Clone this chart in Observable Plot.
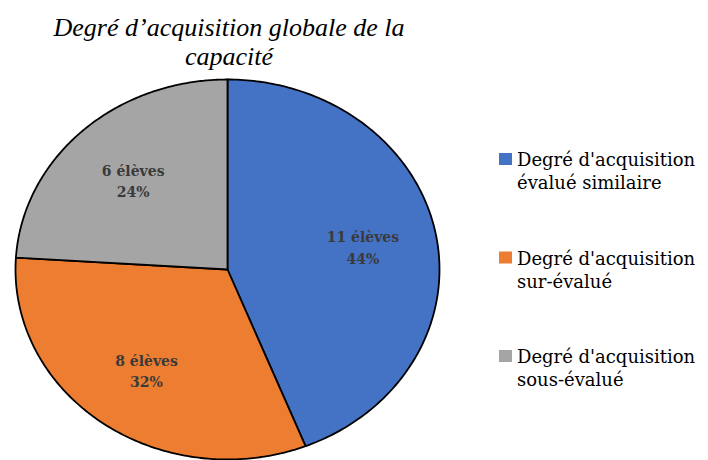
<!DOCTYPE html>
<html>
<head>
<meta charset="utf-8">
<script src="https://cdn.jsdelivr.net/npm/d3@7"></script>
<script src="https://cdn.jsdelivr.net/npm/@observablehq/plot@0.6"></script>
<style>
  html, body { margin: 0; padding: 0; background: #fff; }
</style>
</head>
<body>
<div id="chart"></div>
<script>
const titleLines = ["Degré d’acquisition globale de la", "capacité"];
const categories = ["Degré d'acquisition évalué similaire", "Degré d'acquisition sur-évalué", "Degré d'acquisition sous-évalué"];
const legendLine1 = ["Degré d'acquisition", "Degré d'acquisition", "Degré d'acquisition"];
const legendLine2 = ["évalué similaire", "sur-évalué", "sous-évalué"];
const counts = [11, 8, 6];
const percents = [44, 32, 24];
const colors = ["#4472C4", "#ED7D31", "#A5A5A5"];

const pie = d3.pie().sort(null).value(d => d.count)(
  categories.map((c, i) => ({category: c, count: counts[i], pct: percents[i]}))
);

// sector outlines in unit-circle coordinates (angle clockwise from top)
const sectors = [];
pie.forEach(p => {
  const n = 180;
  sectors.push({category: p.data.category, x: 0, y: 0});
  for (let k = 0; k <= n; k++) {
    const a = p.startAngle + (p.endAngle - p.startAngle) * k / n;
    sectors.push({category: p.data.category, x: Math.sin(a), y: Math.cos(a)});
  }
  sectors.push({category: p.data.category, x: 0, y: 0});
});

const labelR = 0.65;
const labels = pie.map(p => {
  const a = (p.startAngle + p.endAngle) / 2;
  return {x: labelR * Math.sin(a), y: labelR * Math.cos(a),
          text: `${p.data.count} élèves\n${p.data.pct}%`};
});

const chart = Plot.plot({
  width: 708,
  height: 460,
  margin: 0,
  style: {background: "white", overflow: "visible"},
  x: {domain: [-1, 1], range: [15, 439], axis: null},
  y: {domain: [-1, 1], range: [459, 79], axis: null},
  color: {domain: categories, range: colors},
  marks: [
    Plot.line(sectors, {x: "x", y: "y", z: "category", fill: "category", stroke: "#000", strokeWidth: 1.8, strokeLinejoin: "round"}),
    Plot.text(labels, {x: "x", y: "y", text: "text", fontFamily: "DejaVu Serif", fontSize: 14, fontWeight: "bold", fill: "#3a3a3a", lineHeight: 1.55})
  ]
});
document.getElementById("chart").appendChild(chart);

const svg = d3.select(chart);
// title
const t = svg.append("text")
  .attr("text-anchor", "middle")
  .style("font-family", "'Liberation Serif', 'Times New Roman', Times, serif")
  .style("font-style", "italic")
  .style("font-size", "26px")
  .attr("fill", "#000");
titleLines.forEach((line, i) => {
  t.append("tspan").attr("x", 229).attr("y", 36 + i * 29).text(line);
});

// legend
const lg = svg.append("g")
  .attr("text-anchor", "start")
  .style("font-family", "'DejaVu Serif', serif")
  .style("font-size", "18px")
  .attr("fill", "#000");
categories.forEach((c, i) => {
  const top = 153 + i * 98.5;
  lg.append("rect").attr("x", 499).attr("y", top).attr("width", 13).attr("height", 12).attr("fill", colors[i]);
  const tx = lg.append("text");
  tx.append("tspan").attr("x", 517).attr("y", top + 13).text(legendLine1[i]);
  tx.append("tspan").attr("x", 517).attr("y", top + 36).text(legendLine2[i]);
});
</script>
</body>
</html>
